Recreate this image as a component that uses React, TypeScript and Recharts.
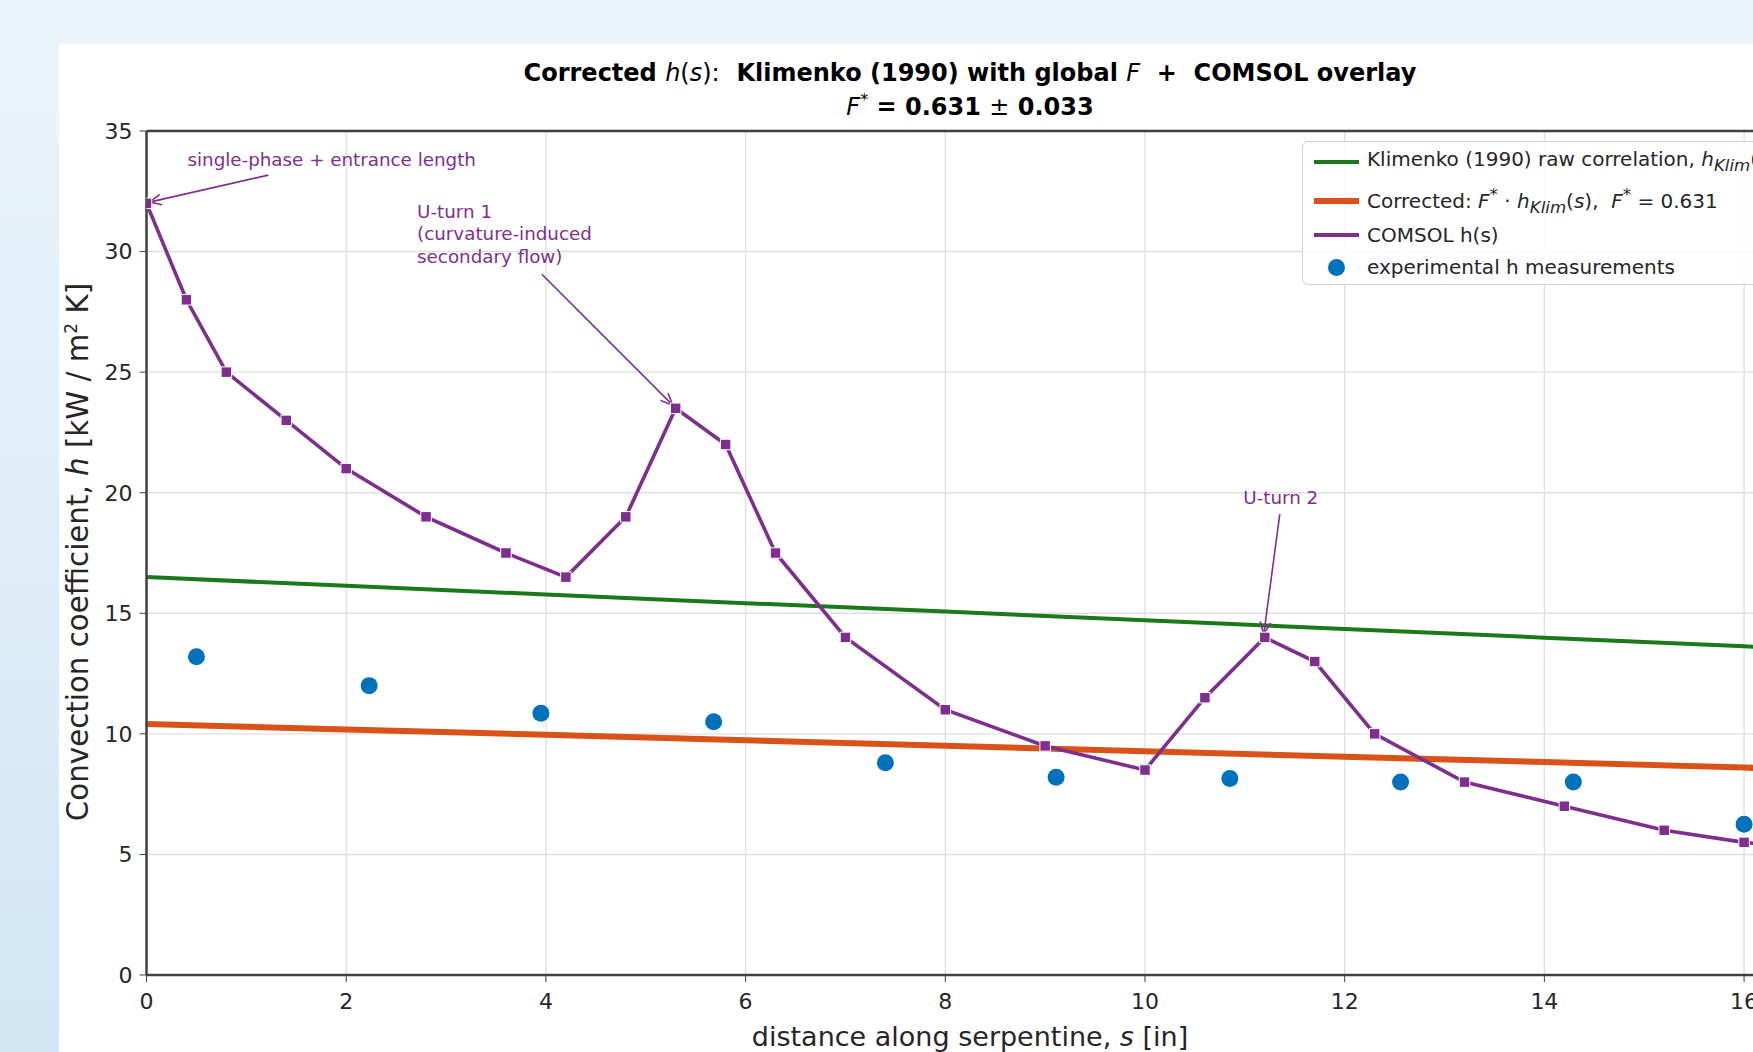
import React from 'react';
import { ComposedChart, Line, XAxis, YAxis, CartesianGrid, ReferenceLine, ReferenceDot, Legend } from 'recharts';

const FONT = '"DejaVu Sans", Verdana, sans-serif';
const GREEN = '#1a7a1a';
const ORANGE = '#d95319';
const PURPLE = '#7e2f8e';
const BLUE = '#0072bd';
const INK = '#262626';
const SPINE = '#404040';

// Klimenko (1990) raw correlation and the corrected curve (F* = 0.631)
const klimS = [0, 2, 4, 6, 8, 10, 12, 14, 16, 16.5];
const klimH = [16.5, 16.14, 15.78, 15.42, 15.07, 14.71, 14.35, 13.99, 13.63, 13.54];
const corrH = [10.41, 10.18, 9.96, 9.73, 9.51, 9.28, 9.05, 8.83, 8.6, 8.54];

// COMSOL h(s)
const comsolS = [0, 0.4, 0.8, 1.4, 2.0, 2.8, 3.6, 4.2, 4.8, 5.3, 5.8, 6.3, 7.0, 8.0, 9.0, 10.0, 10.6, 11.2, 11.7, 12.3, 13.2, 14.2, 15.2, 16.0, 16.5];
const comsolH = [32, 28, 25, 23, 21, 19, 17.5, 16.5, 19, 23.5, 22, 17.5, 14, 11, 9.5, 8.5, 11.5, 14, 13, 10, 8, 7, 6, 5.5, 5.3];

// experimental h measurements
const expS = [0.5, 2.23, 3.95, 5.68, 7.4, 9.11, 10.85, 12.56, 14.29, 16.0];
const expH = [13.2, 12.0, 10.85, 10.5, 8.8, 8.2, 8.15, 8.0, 8.0, 6.25];

const xTicks = [0, 2, 4, 6, 8, 10, 12, 14, 16];
const yTicks = [0, 5, 10, 15, 20, 25, 30, 35];

// annotations (data coordinates)
const annoLines = [
  ['single-phase + entrance length'],
  ['U-turn 1', '(curvature-induced', 'secondary flow)'],
  ['U-turn 2'],
];
const annoTextAt = [[0.41, 33.8], [2.71, 31.67], [11.36, 19.82]];
const annoAnchor = ['start', 'start', 'middle'];
const annoFrom = [[1.22, 33.17], [3.96, 29.06], [11.35, 19.11]];
const annoTo = [[0.03, 32.05], [5.27, 23.63], [11.19, 14.14]];

const klimData = klimS.map((s, i) => ({ s, h: klimH[i] }));
const corrData = klimS.map((s, i) => ({ s, h: corrH[i] }));
const comsolData = comsolS.map((s, i) => ({ s, h: comsolH[i] }));
const expData = expS.map((s, i) => ({ s, h: expH[i] }));

const SquareDot = (props: any) => {
  const { cx, cy, index } = props;
  if (cx == null || cy == null) return <g key={index} />;
  return <rect key={index} x={cx - 5.25} y={cy - 5.25} width={10.5} height={10.5} fill={PURPLE} stroke="#fff" strokeWidth={1} />;
};

const CircleDot = (props: any) => {
  const { cx, cy, index } = props;
  if (cx == null || cy == null) return <g key={index} />;
  return <circle key={index} cx={cx} cy={cy} r={8.5} fill={BLUE} />;
};

const Arrow = (props: any) => {
  const { x1, y1, x2, y2 } = props;
  const ang = Math.atan2(y2 - y1, x2 - x1);
  const len = 13;
  const spread = 0.42;
  const a1 = ang + Math.PI - spread;
  const a2 = ang + Math.PI + spread;
  const pts = `${x2 + len * Math.cos(a1)},${y2 + len * Math.sin(a1)} ${x2},${y2} ${x2 + len * Math.cos(a2)},${y2 + len * Math.sin(a2)}`;
  return (
    <g>
      <line x1={x1} y1={y1} x2={x2} y2={y2} stroke={PURPLE} strokeWidth={1.6} />
      <polyline points={pts} fill="none" stroke={PURPLE} strokeWidth={1.6} />
    </g>
  );
};

const annoText = (i: number) => (props: any) => {
  const { cx, cy } = props;
  return (
    <text x={cx} y={cy} textAnchor={annoAnchor[i] as any} fill={PURPLE} fontSize={18.3} fontFamily={FONT}>
      {annoLines[i].map((t, j) => (
        <tspan key={j} x={cx} y={cy + j * 22.5} dominantBaseline="central">{t}</tspan>
      ))}
    </text>
  );
};

const legendRows = [
  {
    color: GREEN, kind: 'line', w: 4, top: 20,
    label: <>Klimenko (1990) raw correlation, <i>h</i><sub><i>Klim</i></sub>(<i>s</i>)</>,
  },
  {
    color: ORANGE, kind: 'line', w: 6, top: 59,
    label: <>Corrected: <i>F</i><sup>*</sup> · <i>h</i><sub><i>Klim</i></sub>(<i>s</i>),&nbsp; <i>F</i><sup>*</sup> = 0.631</>,
  },
  { color: PURPLE, kind: 'line', w: 3.5, top: 93, label: <>COMSOL h(s)</> },
  { color: BLUE, kind: 'dot', w: 0, top: 125, label: <>experimental h measurements</> },
];

const LegendBox = () => (
  <div style={{
    position: 'relative', width: 620, height: 144, boxSizing: 'border-box',
    border: '1.5px solid #d2d2d2', borderRadius: 6, background: 'rgba(255,255,255,0.85)',
    fontFamily: FONT, fontSize: 20, color: INK,
  }}>
    {legendRows.map((r, i) => (
      <div key={i} style={{ position: 'absolute', left: 0, top: r.top - 16, height: 32, display: 'flex', alignItems: 'center', whiteSpace: 'nowrap' }}>
        <div style={{ width: 64, display: 'flex', justifyContent: 'center', alignItems: 'center' }}>
          {r.kind === 'line'
            ? <div style={{ width: 45, height: r.w, background: r.color, marginLeft: 2 }} />
            : <div style={{ width: 17, height: 17, borderRadius: '50%', background: r.color, marginLeft: 2 }} />}
        </div>
        <span style={{ lineHeight: '20px' }}>{r.label}</span>
      </div>
    ))}
  </div>
);

export default function App() {
  return (
    <div style={{
      position: 'fixed', left: 0, top: 0, width: 1753, height: 1052, overflow: 'hidden',
      background: 'linear-gradient(180deg, #eaf4fb 0%, #e2eff9 40%, #d2e6f4 100%)',
    }}>
      <div style={{ position: 'absolute', left: 59, top: 44, right: 0, bottom: 0, background: '#fff' }} />
      <div style={{ position: 'absolute', left: 0, top: 0 }}>
        <ComposedChart width={1900} height={1052} margin={{ top: 131, right: 106, bottom: 17, left: 66.5 }}>
          <CartesianGrid stroke="#e0e0e0" strokeWidth={1.4} />
          <XAxis
            dataKey="s" type="number" domain={[0, 16.5]} ticks={xTicks} allowDataOverflow
            height={60} tickSize={7} tickMargin={11}
            stroke={SPINE} axisLine={{ stroke: SPINE, strokeWidth: 2.5 }}
            tick={{ fontSize: 22, fill: INK, fontFamily: FONT }}
          />
          <YAxis
            type="number" domain={[0, 35]} ticks={yTicks} allowDataOverflow
            width={80} tickSize={7} tickMargin={7}
            stroke={SPINE} axisLine={{ stroke: SPINE, strokeWidth: 2.5 }}
            tick={{ fontSize: 22, fill: INK, fontFamily: FONT }}
          />
          <ReferenceLine y={35} stroke={SPINE} strokeWidth={2.5} />
          <Line data={klimData} dataKey="h" type="linear" stroke={GREEN} strokeWidth={4} dot={false} activeDot={false} isAnimationActive={false} />
          <Line data={corrData} dataKey="h" type="linear" stroke={ORANGE} strokeWidth={6} dot={false} activeDot={false} isAnimationActive={false} />
          <Line data={comsolData} dataKey="h" type="linear" stroke={PURPLE} strokeWidth={3.6} dot={<SquareDot />} activeDot={false} isAnimationActive={false} />
          <Line data={expData} dataKey="h" type="linear" stroke="none" strokeWidth={0} dot={<CircleDot />} activeDot={false} isAnimationActive={false} />
          {annoFrom.map((f, i) => (
            <ReferenceLine
              key={`a${i}`}
              segment={[{ x: f[0], y: f[1] }, { x: annoTo[i][0], y: annoTo[i][1] }]}
              ifOverflow="visible"
              shape={Arrow}
            />
          ))}
          {annoTextAt.map((p, i) => (
            <ReferenceDot key={`t${i}`} x={p[0]} y={p[1]} r={0} ifOverflow="visible" shape={annoText(i)} />
          ))}
          <Legend
            layout="vertical" align="center" verticalAlign="middle"
            wrapperStyle={{ left: 1302, top: 141, width: 620, height: 144 }}
            content={() => <LegendBox />}
          />
        </ComposedChart>
      </div>
      <svg width={1753} height={1052} style={{ position: 'absolute', left: 0, top: 0, pointerEvents: 'none' }}>
        <text x={970} y={81} textAnchor="middle" fontSize={24} fontWeight="bold" fontFamily={FONT} fill="#000" style={{ whiteSpace: 'pre' }}>
          <tspan>{'Corrected '}</tspan>
          <tspan fontStyle="italic" fontWeight="normal">h</tspan>
          <tspan fontWeight="normal">(</tspan>
          <tspan fontStyle="italic" fontWeight="normal">s</tspan>
          <tspan fontWeight="normal">):</tspan>
          <tspan>{'  Klimenko (1990) with global '}</tspan>
          <tspan fontStyle="italic" fontWeight="normal">F</tspan>
          <tspan>{'  +  COMSOL overlay'}</tspan>
        </text>
        <text x={970} y={115} textAnchor="middle" fontSize={24} fontWeight="bold" fontFamily={FONT} fill="#000" style={{ whiteSpace: 'pre' }}>
          <tspan fontStyle="italic" fontWeight="normal">F</tspan>
          <tspan fontWeight="normal" fontSize={16} dy={-10}>*</tspan>
          <tspan dy={10}>{' = 0.631 '}</tspan>
          <tspan fontWeight="normal">±</tspan>
          <tspan>{' 0.033'}</tspan>
        </text>
        <text x={970} y={1046} textAnchor="middle" fontSize={27} fontFamily={FONT} fill={INK} style={{ whiteSpace: 'pre' }}>
          <tspan>{'distance along serpentine, '}</tspan>
          <tspan fontStyle="italic">s</tspan>
          <tspan>{' [in]'}</tspan>
        </text>
        <text x={88} y={552} textAnchor="middle" fontSize={29.3} fontFamily={FONT} fill={INK} transform="rotate(-90, 88, 552)" style={{ whiteSpace: 'pre' }}>
          <tspan>{'Convection coefficient, '}</tspan>
          <tspan fontStyle="italic">h</tspan>
          <tspan>{' [kW / m'}</tspan>
          <tspan fontSize={17} dy={-11}>2</tspan>
          <tspan dy={11}>{' K]'}</tspan>
        </text>
      </svg>
    </div>
  );
}
